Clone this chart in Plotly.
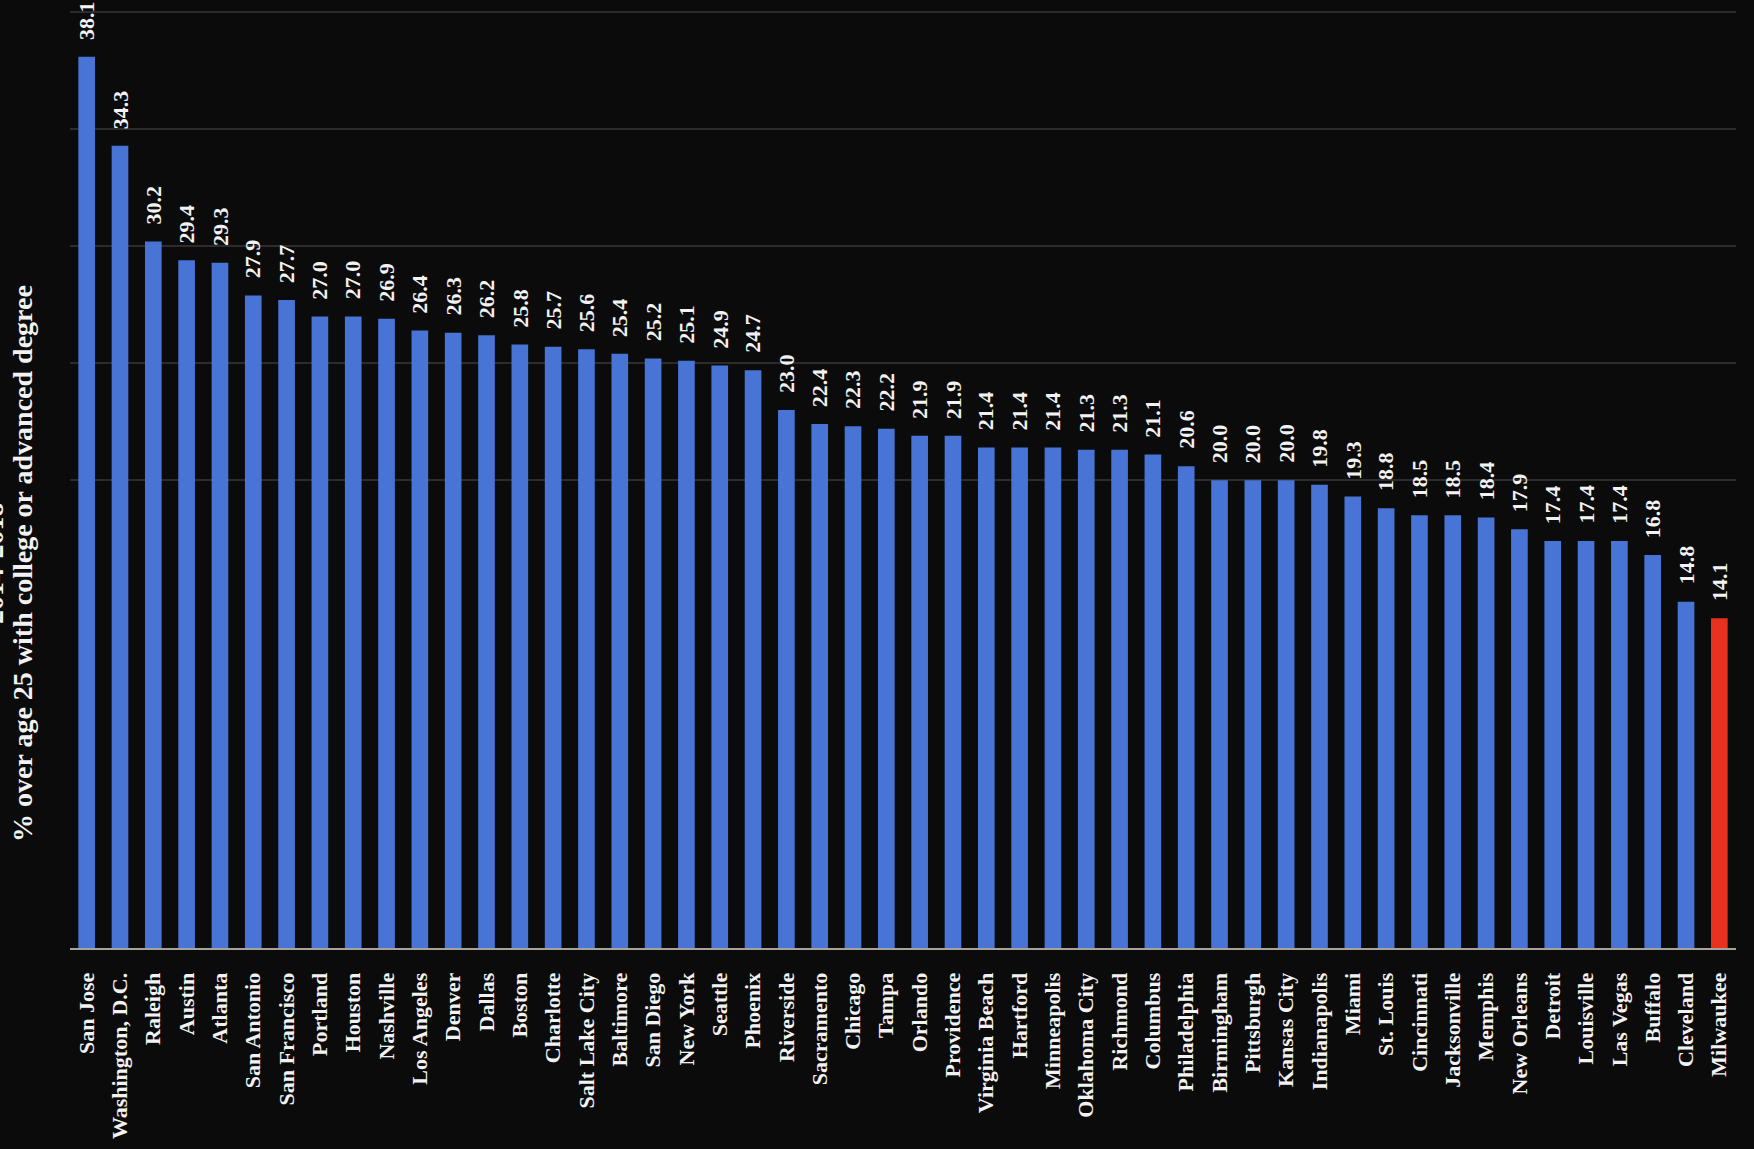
import plotly.graph_objects as go

cities = ["San Jose", "Washington, D.C.", "Raleigh", "Austin", "Atlanta", "San Antonio",
          "San Francisco", "Portland", "Houston", "Nashville", "Los Angeles", "Denver",
          "Dallas", "Boston", "Charlotte", "Salt Lake City", "Baltimore", "San Diego",
          "New York", "Seattle", "Phoenix", "Riverside", "Sacramento", "Chicago", "Tampa",
          "Orlando", "Providence", "Virginia Beach", "Hartford", "Minneapolis",
          "Oklahoma City", "Richmond", "Columbus", "Philadelphia", "Birmingham",
          "Pittsburgh", "Kansas City", "Indianapolis", "Miami", "St. Louis", "Cincinnati",
          "Jacksonville", "Memphis", "New Orleans", "Detroit", "Louisville", "Las Vegas",
          "Buffalo", "Cleveland", "Milwaukee"]
values = [38.1, 34.3, 30.2, 29.4, 29.3, 27.9, 27.7, 27.0, 27.0, 26.9, 26.4, 26.3, 26.2,
          25.8, 25.7, 25.6, 25.4, 25.2, 25.1, 24.9, 24.7, 23.0, 22.4, 22.3, 22.2, 21.9,
          21.9, 21.4, 21.4, 21.4, 21.3, 21.3, 21.1, 20.6, 20.0, 20.0, 20.0, 19.8, 19.3,
          18.8, 18.5, 18.5, 18.4, 17.9, 17.4, 17.4, 17.4, 16.8, 14.8, 14.1]
highlight = "Milwaukee"
title_period = "2014-2018"
y_title = "% over age 25 with college or advanced degree"
grid_vals = [20, 25, 30, 35, 40]

BLUE = "#4874D6"
RED = "#E8321F"
BG = "#0b0b0b"
FONT = "Liberation Serif"

colors = [RED if c == highlight else BLUE for c in cities]

fig = go.Figure()
fig.add_trace(go.Bar(
    x=cities, y=values, marker=dict(color=colors, line=dict(width=0)),
    width=0.5, hoverinfo="x+y",
))

for c, v in zip(cities, values):
    fig.add_annotation(
        x=c, y=v, xref="x", yref="y", text=f"<b>{v:.1f}</b>", textangle=-90,
        showarrow=False, yanchor="bottom", xanchor="center", yshift=15,
        font=dict(family=FONT, size=22, color="#f2f2f2"),
    )

fig.add_annotation(
    x=0, y=0.41, xref="paper", yref="paper", xanchor="right", yanchor="middle",
    xshift=-30, text=f"<b>{y_title}</b>", textangle=-90, showarrow=False,
    font=dict(family=FONT, size=28, color="#f2f2f2"), align="center",
)
fig.add_annotation(
    x=0, y=0.41, xref="paper", yref="paper", xanchor="right", yanchor="middle",
    xshift=-59, text=f"<b>{title_period}</b>", textangle=-90, showarrow=False,
    font=dict(family=FONT, size=28, color="#f2f2f2"), align="center",
)

fig.update_layout(
    width=1754, height=1149,
    paper_bgcolor=BG, plot_bgcolor=BG,
    margin=dict(l=70, r=18, t=10, b=201),
    showlegend=False,
    bargap=0.5,
)
fig.update_xaxes(
    tickangle=-90, ticklabelstandoff=14, automargin=False,
    tickfont=dict(family=FONT, size=22, color="#f2f2f2", weight="bold"),
    showline=True, linecolor="#a8a39a", linewidth=2,
    showgrid=False, ticks="", zeroline=False,
)
fig.update_yaxes(
    range=[0, 40.1], tickvals=grid_vals, showticklabels=False, automargin=False,
    showgrid=True, gridcolor="#2c2c2c", gridwidth=1.5, zeroline=False,
    showline=False, ticks="",
)

fig.write_html(
    "out.html",
    config={"displayModeBar": False},
    post_script="document.body.style.margin='0';document.body.style.background='#0b0b0b';",
)
